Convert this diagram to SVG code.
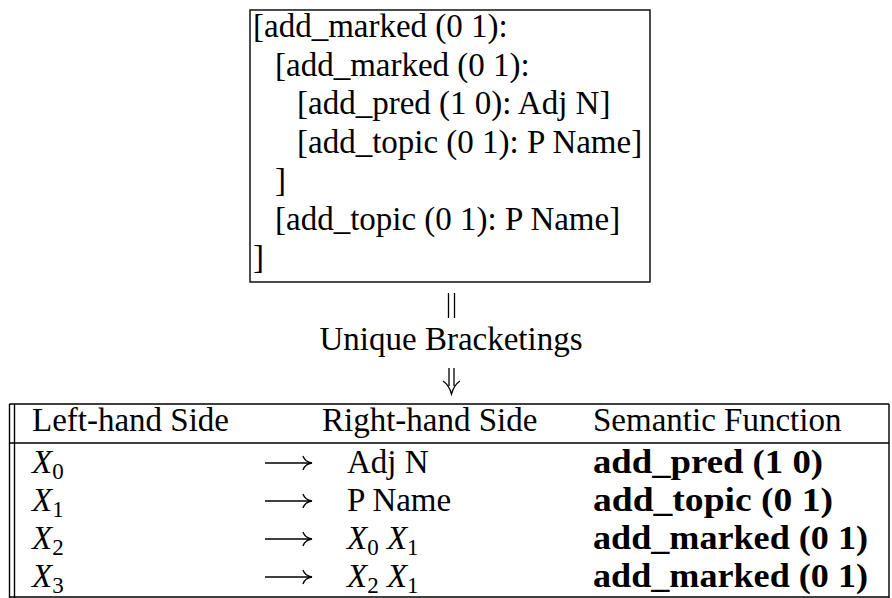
<svg xmlns="http://www.w3.org/2000/svg" width="892" height="598" viewBox="0 0 892 598">
  <style>
    .rm { font-family: "Liberation Serif", "Times New Roman", serif; font-size: 33px; fill: #000; }
    .bf { font-family: "Liberation Serif", "Times New Roman", serif; font-size: 33px; font-weight: bold; fill: #000; }
    .it { font-family: "Liberation Serif", "Times New Roman", serif; font-size: 33px; font-style: italic; fill: #000; }
    .sub { font-size: 23px; font-style: normal; }
    .rule { stroke: #000; stroke-width: 1.4; fill: none; }
    .thin { stroke: #000; stroke-width: 1.3; fill: none; }
  </style>
  <defs>
    <!-- long right arrow used in the rule table -->
    <g id="longarrow">
      <path class="thin" d="M0 0 H46"/>
      <path class="thin" d="M38 -7 Q40 -1 47 0 Q40 1 38 7"/>
    </g>
  </defs>

  <rect width="892" height="598" fill="#fff"/>

  <!-- bracketed structure -->
  <g id="bracketing">
    <rect class="rule" x="250" y="10" width="400" height="272"/>
    <text class="rm" x="253" y="37">[add_marked (0 1):</text>
    <text class="rm" x="275" y="75.5">[add_marked (0 1):</text>
    <text class="rm" x="297" y="114">[add_pred (1 0): Adj N]</text>
    <text class="rm" x="297" y="152.5">[add_topic (0 1): P Name]</text>
    <text class="rm" x="275" y="191">]</text>
    <text class="rm" x="275" y="229.5">[add_topic (0 1): P Name]</text>
    <text class="rm" x="253" y="268">]</text>
  </g>

  <!-- derivation step between the structure and the rule table -->
  <g id="connectors">
    <path class="thin" d="M448.5 293 V318 M454.5 293 V318"/>
    <text class="rm" x="451" y="350" text-anchor="middle">Unique Bracketings</text>
    <path class="thin" d="M449 368 V386 M454 368 V386"/>
    <path class="thin" d="M443 381 Q449 385 451.5 394 Q454 385 460 381"/>
  </g>

  <!-- rule table -->
  <g id="rules">
    <path class="rule" d="M9.5 404 V598 M14.5 404 V598 M889 404 V598"/>
    <path class="rule" d="M9.5 404 H889 M9.5 443 H889 M9.5 597 H889"/>

    <text class="rm" x="32" y="431">Left-hand Side</text>
    <text class="rm" x="322" y="431">Right-hand Side</text>
    <text class="rm" x="593" y="431">Semantic Function</text>

    <text class="it" x="32" y="473">X<tspan class="sub" dy="6">0</tspan></text>
    <use href="#longarrow" x="265" y="463"/>
    <text class="rm" x="347" y="473">Adj N</text>
    <text class="bf" x="593" y="473" textLength="230" lengthAdjust="spacingAndGlyphs">add_pred (1 0)</text>

    <text class="it" x="32" y="511">X<tspan class="sub" dy="6">1</tspan></text>
    <use href="#longarrow" x="265" y="501"/>
    <text class="rm" x="347" y="511">P Name</text>
    <text class="bf" x="593" y="511" textLength="240" lengthAdjust="spacingAndGlyphs">add_topic (0 1)</text>

    <text class="it" x="32" y="549">X<tspan class="sub" dy="6">2</tspan></text>
    <use href="#longarrow" x="265" y="539"/>
    <text class="it" x="347" y="549">X<tspan class="sub" dy="6">0</tspan><tspan dy="-6"> X</tspan><tspan class="sub" dy="6">1</tspan></text>
    <text class="bf" x="593" y="549" textLength="275" lengthAdjust="spacingAndGlyphs">add_marked (0 1)</text>

    <text class="it" x="32" y="587">X<tspan class="sub" dy="6">3</tspan></text>
    <use href="#longarrow" x="265" y="577"/>
    <text class="it" x="347" y="587">X<tspan class="sub" dy="6">2</tspan><tspan dy="-6"> X</tspan><tspan class="sub" dy="6">1</tspan></text>
    <text class="bf" x="593" y="587" textLength="275" lengthAdjust="spacingAndGlyphs">add_marked (0 1)</text>
  </g>
</svg>
